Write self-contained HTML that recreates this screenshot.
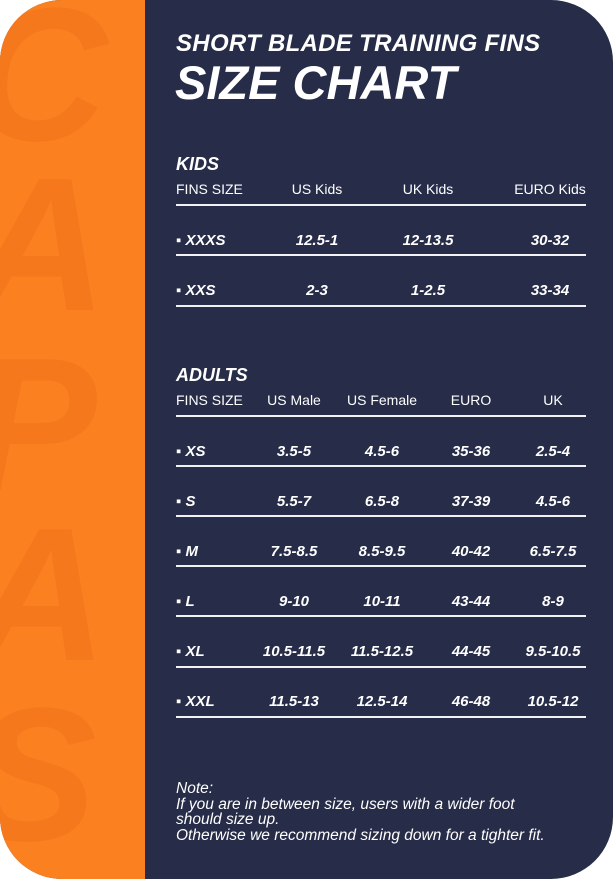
<!DOCTYPE html>
<html><head><meta charset="utf-8"><style>
html,body{margin:0;padding:0;background:#fff}
#c{position:relative;width:613px;height:879px;overflow:hidden;border-radius:62px;background:#272c48;font-family:"Liberation Sans",sans-serif;color:#fff}
#o{position:absolute;left:0;top:0;width:145px;height:879px;background:#fb8120;overflow:hidden}
#o span{position:absolute;font-weight:bold;font-style:italic;color:#f6781c;font-size:190px;line-height:1;left:-30px}
.t{position:absolute;white-space:nowrap}
.ln{position:absolute;left:176px;width:410px;height:2px;background:#f2f2f5}
.r{font-weight:bold;font-style:italic;font-size:15px}
.c{transform:translateX(-50%)}
</style></head><body><div id="c">
<div id="o"><span style="top:-20px">C</span><span style="top:150px">A</span><span style="top:330px">P</span><span style="top:500px">A</span><span style="top:680px">S</span></div>
<div class="t" style="left:176px;top:30px;font-size:24px;font-weight:bold;font-style:italic;letter-spacing:0.3px">SHORT BLADE TRAINING FINS</div>
<div class="t" style="left:175px;top:55px;font-size:47px;font-weight:bold;font-style:italic;letter-spacing:0px">SIZE CHART</div>

<div class="t" style="left:176px;top:154px;font-size:18px;font-weight:bold;font-style:italic">KIDS</div>
<div class="t" style="left:176px;top:181px;font-size:14px">FINS SIZE</div>
<div class="t c" style="left:317px;top:181px;font-size:14px">US Kids</div>
<div class="t c" style="left:428px;top:181px;font-size:14px">UK Kids</div>
<div class="t c" style="left:550px;top:181px;font-size:14px">EURO Kids</div>
<div class="ln" style="top:204px"></div>
<div class="t r" style="left:176px;top:232px">▪ XXXS</div>
<div class="t r c" style="left:317px;top:232px">12.5-1</div>
<div class="t r c" style="left:428px;top:232px">12-13.5</div>
<div class="t r c" style="left:550px;top:232px">30-32</div>
<div class="ln" style="top:254px"></div>
<div class="t r" style="left:176px;top:282px">▪ XXS</div>
<div class="t r c" style="left:317px;top:282px">2-3</div>
<div class="t r c" style="left:428px;top:282px">1-2.5</div>
<div class="t r c" style="left:550px;top:282px">33-34</div>
<div class="ln" style="top:305px"></div>

<div class="t" style="left:176px;top:365px;font-size:18px;font-weight:bold;font-style:italic">ADULTS</div>
<div class="t" style="left:176px;top:392px;font-size:14px">FINS SIZE</div>
<div class="t c" style="left:294px;top:392px;font-size:14px">US Male</div>
<div class="t c" style="left:382px;top:392px;font-size:14px">US Female</div>
<div class="t c" style="left:471px;top:392px;font-size:14px">EURO</div>
<div class="t c" style="left:553px;top:392px;font-size:14px">UK</div>
<div class="ln" style="top:415px"></div>

<div class="t r" style="left:176px;top:443px">▪ XS</div><div class="t r c" style="left:294px;top:443px">3.5-5</div><div class="t r c" style="left:382px;top:443px">4.5-6</div><div class="t r c" style="left:471px;top:443px">35-36</div><div class="t r c" style="left:553px;top:443px">2.5-4</div>
<div class="ln" style="top:465px"></div>
<div class="t r" style="left:176px;top:493px">▪ S</div><div class="t r c" style="left:294px;top:493px">5.5-7</div><div class="t r c" style="left:382px;top:493px">6.5-8</div><div class="t r c" style="left:471px;top:493px">37-39</div><div class="t r c" style="left:553px;top:493px">4.5-6</div>
<div class="ln" style="top:515px"></div>
<div class="t r" style="left:176px;top:543px">▪ M</div><div class="t r c" style="left:294px;top:543px">7.5-8.5</div><div class="t r c" style="left:382px;top:543px">8.5-9.5</div><div class="t r c" style="left:471px;top:543px">40-42</div><div class="t r c" style="left:553px;top:543px">6.5-7.5</div>
<div class="ln" style="top:565px"></div>
<div class="t r" style="left:176px;top:593px">▪ L</div><div class="t r c" style="left:294px;top:593px">9-10</div><div class="t r c" style="left:382px;top:593px">10-11</div><div class="t r c" style="left:471px;top:593px">43-44</div><div class="t r c" style="left:553px;top:593px">8-9</div>
<div class="ln" style="top:615px"></div>
<div class="t r" style="left:176px;top:643px">▪ XL</div><div class="t r c" style="left:294px;top:643px">10.5-11.5</div><div class="t r c" style="left:382px;top:643px">11.5-12.5</div><div class="t r c" style="left:471px;top:643px">44-45</div><div class="t r c" style="left:553px;top:643px">9.5-10.5</div>
<div class="ln" style="top:666px"></div>
<div class="t r" style="left:176px;top:693px">▪ XXL</div><div class="t r c" style="left:294px;top:693px">11.5-13</div><div class="t r c" style="left:382px;top:693px">12.5-14</div><div class="t r c" style="left:471px;top:693px">46-48</div><div class="t r c" style="left:553px;top:693px">10.5-12</div>
<div class="ln" style="top:716px"></div>

<div class="t" style="left:176px;top:781px;font-size:15.5px;font-style:italic;line-height:15.5px">Note:<br>If you are in between size, users with a wider foot<br>should size up.<br>Otherwise we recommend sizing down for a tighter fit.</div>
</div></body></html>
